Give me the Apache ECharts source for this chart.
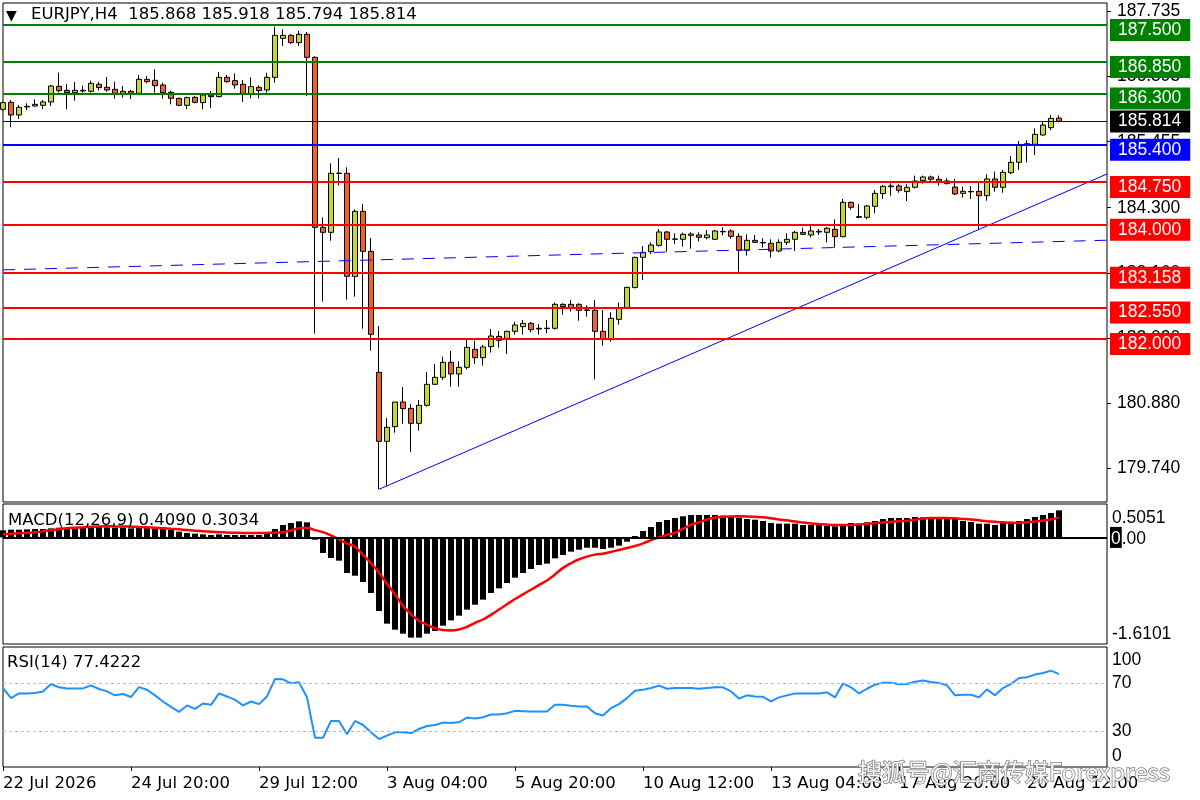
<!DOCTYPE html>
<html>
<head>
<meta charset="utf-8">
<title>EURJPY,H4</title>
<script src="https://cdn.jsdelivr.net/npm/echarts@6/dist/echarts.min.js"></script>
<style>
html, body { margin: 0; padding: 0; background: #fff; }
#main { width: 1200px; height: 800px; }
</style>
</head>
<body>
<div id="main"></div>
<script>
var symbol = 'EURJPY,H4'

// H4 candles, left to right
var opens = [
    186.023, 186.145, 185.924, 186.064, 186.081, 186.093, 186.151, 186.426, 186.356, 186.315,
    186.344, 186.338, 186.461, 186.408, 186.373, 186.303, 186.338, 186.303, 186.548, 186.531,
    186.449, 186.321, 186.215, 186.093, 186.233, 186.140, 186.274, 186.245, 186.583, 186.525,
    186.461, 186.291, 186.408, 186.361, 186.583, 187.266, 187.319, 187.191, 187.337, 186.934,
    183.956, 183.868, 184.905, 184.902, 183.098, 184.236, 183.535, 181.416, 180.207, 180.464,
    180.896, 180.785, 180.523, 180.838, 181.206, 181.329, 181.591, 181.387, 181.504, 181.819,
    181.673, 181.866, 182.046, 182.011, 182.134, 182.216, 182.274, 182.187, 182.184, 182.187,
    182.607, 182.607, 182.607, 182.508, 182.502, 182.134, 182.006, 182.344, 182.549, 182.900,
    183.430, 183.530, 183.640, 183.874, 183.746, 183.746, 183.816, 183.822, 183.775, 183.746,
    183.883, 183.892, 183.798, 183.553, 183.728, 183.690, 183.676, 183.541, 183.693, 183.746,
    183.868, 183.822, 183.874, 183.868, 183.921, 183.792, 184.394, 184.143, 184.131, 184.324,
    184.546, 184.668, 184.680, 184.581, 184.657, 184.773, 184.838, 184.797, 184.768, 184.662,
    184.551, 184.583, 184.586, 184.510, 184.803, 184.657, 184.913, 185.094, 185.398, 185.410,
    185.573, 185.702, 185.868
]
var closes = [
    186.140, 185.924, 186.058, 186.075, 186.110, 186.151, 186.431, 186.350, 186.315, 186.356,
    186.356, 186.478, 186.402, 186.361, 186.303, 186.338, 186.303, 186.548, 186.507, 186.437,
    186.315, 186.215, 186.093, 186.227, 186.145, 186.274, 186.245, 186.583, 186.507, 186.449,
    186.303, 186.420, 186.350, 186.583, 187.319, 187.319, 187.191, 187.337, 186.934, 183.956,
    183.868, 184.902, 184.900, 183.098, 184.236, 183.535, 182.082, 180.207, 180.453, 180.896,
    180.780, 180.523, 180.838, 181.206, 181.329, 181.591, 181.387, 181.504, 181.854, 181.673,
    181.860, 182.052, 181.976, 182.134, 182.245, 182.274, 182.163, 182.175, 182.190, 182.607,
    182.566, 182.537, 182.502, 182.502, 182.134, 182.006, 182.362, 182.549, 182.905, 183.430,
    183.518, 183.646, 183.874, 183.746, 183.751, 183.833, 183.839, 183.781, 183.822, 183.892,
    183.877, 183.798, 183.553, 183.728, 183.693, 183.684, 183.541, 183.693, 183.746, 183.868,
    183.833, 183.892, 183.886, 183.939, 183.792, 184.394, 184.306, 184.131, 184.330, 184.551,
    184.674, 184.680, 184.604, 184.657, 184.768, 184.838, 184.797, 184.762, 184.721, 184.540,
    184.586, 184.578, 184.510, 184.803, 184.657, 184.919, 185.094, 185.398, 185.421, 185.585,
    185.748, 185.865, 185.814
]
var lows = [
    186.000, 185.708, 185.854, 186.011, 186.070, 186.023, 186.081, 186.315, 186.023, 186.175,
    186.315, 186.315, 186.350, 186.332, 186.210, 186.227, 186.204, 186.291, 186.478, 186.315,
    186.210, 186.110, 186.081, 186.023, 186.128, 186.023, 186.046, 186.233, 186.490, 186.385,
    186.151, 186.215, 186.215, 186.315, 186.490, 187.132, 187.167, 187.132, 186.256, 182.094,
    182.654, 183.722, 184.692, 182.689, 182.742, 182.181, 181.796, 179.367, 179.425, 180.359,
    180.517, 180.021, 180.394, 180.815, 181.200, 181.282, 181.165, 181.165, 181.469, 181.562,
    181.533, 181.761, 181.848, 181.737, 182.076, 182.076, 182.117, 182.076, 182.099, 182.163,
    182.426, 182.479, 182.321, 182.391, 181.293, 181.883, 181.953, 182.251, 182.525, 182.888,
    183.033, 183.489, 183.617, 183.530, 183.664, 183.617, 183.582, 183.711, 183.746, 183.734,
    183.816, 183.757, 183.179, 183.460, 183.687, 183.600, 183.425, 183.518, 183.646, 183.541,
    183.822, 183.775, 183.822, 183.693, 183.600, 183.781, 184.265, 184.114, 184.096, 184.201,
    184.452, 184.510, 184.563, 184.417, 184.639, 184.721, 184.768, 184.686, 184.709, 184.522,
    184.476, 184.452, 183.909, 184.423, 184.581, 184.563, 184.890, 184.960, 185.094, 185.223,
    185.562, 185.655, 185.794
]
var highs = [
    186.160, 186.186, 186.099, 186.128, 186.198, 186.186, 186.449, 186.665, 186.467, 186.502,
    186.437, 186.525, 186.507, 186.589, 186.507, 186.432, 186.361, 186.624, 186.607, 186.723,
    186.490, 186.350, 186.227, 186.245, 186.256, 186.291, 186.344, 186.677, 186.624, 186.653,
    186.537, 186.583, 186.443, 186.665, 187.471, 187.424, 187.337, 187.395, 187.377, 186.950,
    184.131, 185.077, 185.170, 185.007, 184.271, 184.365, 183.769, 182.228, 180.617, 180.896,
    181.159, 180.861, 180.931, 181.422, 181.562, 181.691, 181.790, 181.609, 181.982, 181.971,
    181.895, 182.175, 182.140, 182.146, 182.298, 182.333, 182.298, 182.263, 182.333, 182.636,
    182.625, 182.683, 182.625, 182.590, 182.683, 182.508, 182.467, 182.636, 182.915, 183.442,
    183.629, 183.693, 183.927, 183.892, 183.851, 183.862, 183.868, 183.868, 183.909, 183.909,
    183.956, 183.921, 183.851, 183.833, 183.822, 183.763, 183.746, 183.746, 183.851, 183.892,
    183.950, 183.979, 183.927, 183.962, 184.096, 184.452, 184.405, 184.365, 184.347, 184.610,
    184.697, 184.727, 184.709, 184.709, 184.861, 184.861, 184.861, 184.861, 184.814, 184.802,
    184.668, 184.680, 184.744, 184.884, 184.931, 184.960, 185.205, 185.468, 185.480, 185.690,
    185.818, 185.924, 185.918
]

// MACD(12,26,9) histogram and signal line
var macdHist = [
    0.107, 0.117, 0.117, 0.122, 0.127, 0.127, 0.137, 0.147, 0.147, 0.147,
    0.147, 0.158, 0.158, 0.152, 0.147, 0.147, 0.137, 0.158, 0.147, 0.137,
    0.127, 0.117, 0.087, 0.067, 0.057, 0.047, 0.037, 0.047, 0.037, 0.037,
    0.037, 0.037, 0.037, 0.067, 0.127, 0.188, 0.218, 0.243, 0.228, -0.034,
    -0.235, -0.311, -0.351, -0.537, -0.578, -0.673, -0.839, -1.111, -1.303, -1.394,
    -1.454, -1.514, -1.514, -1.454, -1.414, -1.333, -1.253, -1.182, -1.091, -1.016,
    -0.940, -0.839, -0.769, -0.689, -0.608, -0.537, -0.477, -0.417, -0.396, -0.316,
    -0.265, -0.215, -0.185, -0.155, -0.155, -0.175, -0.155, -0.124, -0.064, 0.022,
    0.097, 0.158, 0.233, 0.263, 0.294, 0.319, 0.339, 0.339, 0.339, 0.339,
    0.329, 0.319, 0.299, 0.278, 0.268, 0.248, 0.218, 0.208, 0.208, 0.208,
    0.188, 0.188, 0.188, 0.178, 0.168, 0.178, 0.218, 0.208, 0.228, 0.248,
    0.278, 0.294, 0.294, 0.294, 0.309, 0.304, 0.299, 0.294, 0.294, 0.294,
    0.248, 0.233, 0.208, 0.208, 0.188, 0.228, 0.238, 0.248, 0.278, 0.309,
    0.339, 0.369, 0.409
]
var macdSignal = [
    0.047, 0.055, 0.062, 0.070, 0.077, 0.092, 0.108, 0.125, 0.140, 0.148,
    0.155, 0.162, 0.167, 0.168, 0.167, 0.165, 0.162, 0.158, 0.152, 0.145,
    0.138, 0.130, 0.122, 0.112, 0.102, 0.093, 0.087, 0.080, 0.074, 0.070,
    0.067, 0.067, 0.068, 0.070, 0.074, 0.080, 0.105, 0.140, 0.145, 0.110,
    0.080, 0.030, -0.030, -0.090, -0.140, -0.260, -0.390, -0.530, -0.700, -0.860,
    -1.030, -1.160, -1.260, -1.320, -1.370, -1.400, -1.405, -1.390, -1.350, -1.290,
    -1.240, -1.170, -1.090, -1.010, -0.930, -0.860, -0.790, -0.720, -0.650, -0.560,
    -0.460, -0.390, -0.330, -0.290, -0.260, -0.245, -0.220, -0.190, -0.160, -0.130,
    -0.090, -0.040, 0.000, 0.040, 0.070, 0.130, 0.190, 0.230, 0.270, 0.300,
    0.313, 0.317, 0.319, 0.318, 0.312, 0.305, 0.290, 0.272, 0.258, 0.240,
    0.226, 0.212, 0.202, 0.194, 0.188, 0.188, 0.188, 0.195, 0.206, 0.215,
    0.226, 0.236, 0.245, 0.252, 0.268, 0.285, 0.292, 0.294, 0.292, 0.289,
    0.280, 0.272, 0.260, 0.245, 0.238, 0.228, 0.218, 0.222, 0.228, 0.240,
    0.256, 0.270, 0.3034
]

// RSI(14)
var rsi = [
    65.8, 57.4, 61.3, 61.3, 61.6, 63.0, 69.2, 66.4, 65.5, 65.5,
    65.5, 68.0, 65.0, 63.0, 59.7, 60.8, 58.3, 66.6, 64.4, 59.7,
    54.6, 50.1, 45.9, 51.3, 48.5, 52.9, 51.8, 61.3, 58.8, 56.0,
    51.3, 54.6, 52.4, 58.8, 73.4, 73.1, 69.7, 70.6, 58.0, 24.4,
    24.4, 38.4, 38.4, 27.2, 38.4, 35.0, 28.9, 23.3, 26.1, 28.9,
    28.9, 28.3, 31.7, 34.2, 35.0, 37.0, 36.7, 37.3, 41.2, 40.4,
    41.5, 43.7, 43.7, 44.8, 46.8, 46.5, 46.2, 46.2, 46.2, 51.8,
    51.8, 51.0, 50.4, 50.4, 44.8, 42.9, 49.0, 52.4, 57.4, 63.6,
    64.4, 65.8, 67.8, 65.2, 65.8, 65.8, 65.8, 65.2, 65.8, 66.4,
    66.4, 63.0, 57.1, 59.7, 58.8, 58.5, 54.6, 58.0, 59.7, 61.3,
    61.3, 61.3, 61.3, 62.2, 58.0, 69.7, 66.4, 61.3, 65.2, 68.6,
    70.3, 70.3, 68.9, 69.2, 71.1, 72.0, 70.8, 70.0, 68.0, 59.7,
    60.2, 60.2, 58.0, 64.7, 59.7, 65.8, 69.2, 74.2, 74.8, 77.0,
    78.4, 80.3, 77.4222
]
var rsiLevels = [70, 30]

// horizontal levels drawn on the chart
var levelValues = [187.5, 186.85, 186.3, 185.814, 185.4, 184.75, 184.0, 183.158, 182.55, 182.0]
var levelColors = ['#008000', '#008000', '#008000', '#000080', '#0000ff', '#ff0000', '#ff0000', '#ff0000', '#ff0000', '#ff0000']
var tagColors = ['#008000', '#008000', '#008000', '#000000', '#0000ff', '#ff0000', '#ff0000', '#ff0000', '#ff0000', '#ff0000']
var bidIndex = 3

// trend line and dashed line, [bar index, price]
var trendLine = [[47, 179.367], [138, 184.89]]
var dashLine = [[0, 183.21], [138, 183.73]]

// axis ticks
var priceTicks = [187.735, 186.595, 185.455, 184.300, 183.160, 182.020, 180.880, 179.740]
var macdTicks = [0.5051, 0, -1.6101]
var rsiTicks = [100, 70, 30, 0]
var timeLabels = ['22 Jul 2026', '24 Jul 20:00', '29 Jul 12:00', '3 Aug 04:00', '5 Aug 20:00',
    '10 Aug 12:00', '13 Aug 04:00', '17 Aug 20:00', '20 Aug 12:00']
var labelStep = 16
var slotCount = 139

var bull = '#c2d834'
var bear = '#f0622a'
var font = 'DejaVu Sans'
var numFont = 'Liberation Sans'

var cats = []
for (var i = 0; i < slotCount; i++) cats.push(String(i))

var candles = []
for (var i = 0; i < opens.length; i++) {
    candles.push([opens[i], closes[i], lows[i], highs[i]])
}

var last = opens.length - 1
var header = symbol + '  ' + opens[last].toFixed(3) + ' ' + highs[last].toFixed(3) + ' ' +
    lows[last].toFixed(3) + ' ' + closes[last].toFixed(3)

var levelLines = levelValues.map(function (v, i) {
    return {
        yAxis: v,
        lineStyle: { color: levelColors[i], width: i == bidIndex ? 1 : 2, type: 'solid' },
        label: {
            backgroundColor: tagColors[i],
            formatter: v.toFixed(3),
            offset: [0, i == bidIndex ? 0 : 5]
        }
    }
})

function hiddenX(idx) {
    return {
        type: 'category', gridIndex: idx, data: cats, boundaryGap: false,
        axisLine: { show: false }, axisTick: { show: false }, axisLabel: { show: false },
        splitLine: { show: false }
    }
}

var bottomX = hiddenX(2)
bottomX.axisTick = { show: true, interval: labelStep - 1, length: 4, lineStyle: { color: '#000' } }
bottomX.axisLabel = {
    show: true, interval: labelStep - 1, align: 'left', margin: 8,
    color: '#000', fontSize: 16.5, fontFamily: font,
    formatter: function (v, idx) { return timeLabels[idx / labelStep] || '' }
}

var option = {
    backgroundColor: '#fff',
    animation: false,
    textStyle: { fontFamily: font },
    title: [
        { text: '▼', left: 6, top: 9, padding: 0, textStyle: { fontSize: 14, color: '#000', fontWeight: 'normal' } },
        { text: header, left: 31, top: 6, padding: 0, textStyle: { fontSize: 16.5, color: '#000', fontWeight: 'normal', fontFamily: font } },
        { text: 'MACD(12,26,9) ' + macdHist[last].toFixed(4) + ' ' + macdSignal[last].toFixed(4), left: 8, top: 512, padding: 0,
          textStyle: { fontSize: 16.5, color: '#000', fontWeight: 'normal', fontFamily: font } },
        { text: 'RSI(14) ' + rsi[last].toFixed(4), left: 7, top: 654, padding: 0,
          textStyle: { fontSize: 16.5, color: '#000', fontWeight: 'normal', fontFamily: font } },
        { text: '搜狐号@汇商传媒Forexpress', left: 858, top: 760, padding: 0, z: 20,
          textStyle: { fontSize: 24, color: '#f4f4f4', fontWeight: 'normal', fontFamily: 'Noto Sans CJK SC',
                       textBorderColor: '#808080', textBorderWidth: 1.5 } }
    ],
    grid: [
        { left: 3, top: 3, width: 1104, height: 499, show: true, borderColor: '#000', borderWidth: 1, backgroundColor: '#fff' },
        { left: 3, top: 504, width: 1104, height: 140, show: true, borderColor: '#000', borderWidth: 1, backgroundColor: '#fff' },
        { left: 3, top: 647, width: 1104, height: 120, show: true, borderColor: '#000', borderWidth: 1, backgroundColor: '#fff' }
    ],
    xAxis: [hiddenX(0), hiddenX(1), bottomX],
    yAxis: [
        {
            type: 'value', gridIndex: 0, position: 'right', min: 179.1447, max: 187.885, scale: true,
            splitLine: { show: false }, axisLine: { show: false },
            axisTick: { show: true, length: 4, customValues: priceTicks, lineStyle: { color: '#000' } },
            axisLabel: { customValues: priceTicks, margin: 10, color: '#000', fontSize: 17.5, fontFamily: numFont,
                         formatter: function (v) { return v.toFixed(3) } }
        },
        {
            type: 'value', gridIndex: 1, position: 'right', min: -1.6101, max: 0.5051,
            splitLine: { show: false }, axisLine: { show: false }, axisTick: { show: false },
            axisLabel: {
                customValues: macdTicks, margin: 3, color: '#000', fontSize: 17.5, fontFamily: numFont,
                formatter: function (v) {
                    if (v > 0) return '{top|' + v.toFixed(4) + '}'
                    if (v < 0) return '{bot|' + v.toFixed(4) + '}'
                    return '{z|0}{n|.00}'
                },
                rich: {
                    top: { fontSize: 17.5, fontFamily: numFont, padding: [28, 0, 0, 2] },
                    bot: { fontSize: 17.5, fontFamily: numFont, padding: [0, 0, 20, 2] },
                    z: { fontSize: 17.5, fontFamily: numFont, color: '#fff', backgroundColor: '#000', padding: [3, 1, 0, 1] },
                    n: { fontSize: 17.5, fontFamily: numFont, padding: [3, 0, 0, 0] }
                }
            }
        },
        {
            type: 'value', gridIndex: 2, position: 'right', min: 0, max: 100,
            splitLine: { show: false }, axisLine: { show: false }, axisTick: { show: false },
            axisLabel: {
                customValues: rsiTicks, margin: 5, color: '#000', fontSize: 17.5, fontFamily: numFont,
                formatter: function (v) {
                    if (v == 100) return '{top|100}'
                    if (v == 0) return '{bot|0}'
                    return String(v)
                },
                rich: {
                    top: { fontSize: 17.5, fontFamily: numFont, padding: [26, 0, 0, 0] },
                    bot: { fontSize: 17.5, fontFamily: numFont, padding: [0, 0, 22, 0] }
                }
            }
        }
    ],
    series: [
        {
            type: 'candlestick', xAxisIndex: 0, yAxisIndex: 0, data: candles, barWidth: 6, clip: true,
            itemStyle: { color: bull, color0: bear, borderColor: '#000', borderColor0: '#000', borderWidth: 1 },
            markLine: {
                silent: true, symbol: 'none', animation: false,
                label: {
                    show: true, position: 'end', distance: 3, color: '#fff', fontSize: 17.5, fontFamily: numFont,
                    padding: [2, 9, 1, 8], lineHeight: 19
                },
                data: levelLines
            }
        },
        {
            type: 'line', xAxisIndex: 0, yAxisIndex: 0, data: dashLine, symbol: 'none', silent: true,
            lineStyle: { color: '#0000ff', width: 1, type: [12, 9] }
        },
        {
            type: 'line', xAxisIndex: 0, yAxisIndex: 0, data: trendLine, symbol: 'none', silent: true,
            lineStyle: { color: '#0000ff', width: 1 }
        },
        {
            type: 'bar', xAxisIndex: 1, yAxisIndex: 1, data: macdHist, barWidth: 6,
            itemStyle: { color: '#000' },
            markLine: {
                silent: true, symbol: 'none', label: { show: false },
                lineStyle: { color: '#000', width: 2, type: 'solid' },
                data: [{ yAxis: 0 }]
            }
        },
        {
            type: 'line', xAxisIndex: 1, yAxisIndex: 1, data: macdSignal, symbol: 'none', smooth: 0.3,
            lineStyle: { color: '#ff0000', width: 2.5 }
        },
        {
            type: 'line', xAxisIndex: 2, yAxisIndex: 2, data: rsi, symbol: 'none',
            lineStyle: { color: '#1e90ff', width: 2 },
            markLine: {
                silent: true, symbol: 'none', label: { show: false },
                lineStyle: { color: '#b8b8b8', width: 1, type: [3, 3] },
                data: rsiLevels.map(function (v) { return { yAxis: v } })
            }
        }
    ]
}

var myChart = echarts.init(document.getElementById('main'))
myChart.setOption(option)
</script>
</body>
</html>
